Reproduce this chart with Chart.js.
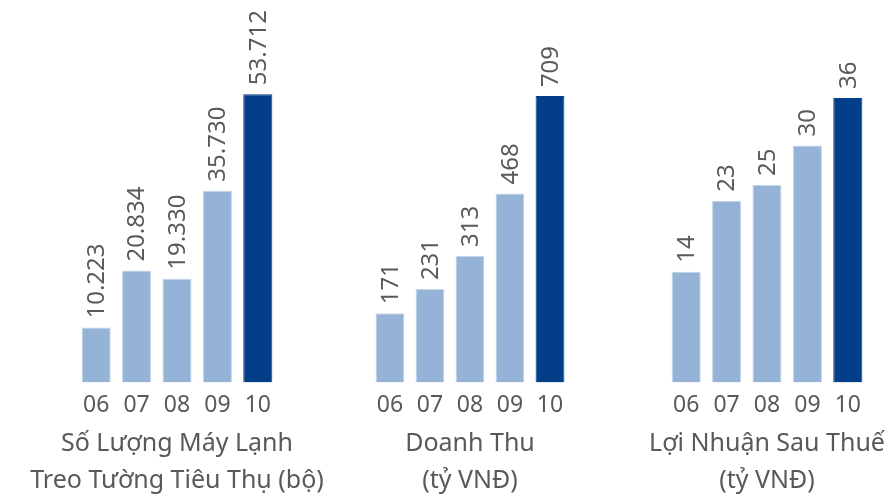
<!DOCTYPE html>
<html>
<head>
<meta charset="utf-8">
<script src="https://cdn.jsdelivr.net/npm/chart.js@4.4.0/dist/chart.umd.min.js"></script>
<style>
  html, body { margin: 0; padding: 0; background: #fff; }
  #wrap { position: relative; width: 890px; height: 499px; }
  #wrap canvas { position: absolute; left: 0; top: 0; }
</style>
</head>
<body>
<div id="wrap">
  <canvas id="c1" width="890" height="499"></canvas>
  <canvas id="c2" width="890" height="499"></canvas>
  <canvas id="c3" width="890" height="499"></canvas>
</div>
<script>
const years = ['06', '07', '08', '09', '10']

const unitsSold = [10223, 20834, 19330, 35730, 53712]
const revenue = [171, 231, 313, 468, 709]
const profit = [14, 23, 25, 30, 36]

const titleUnits = ['Số Lượng Máy Lạnh', 'Treo Tường Tiêu Thụ (bộ)']
const titleRevenue = ['Doanh Thu', '(tỷ VNĐ)']
const titleProfit = ['Lợi Nhuận Sau Thuế', '(tỷ VNĐ)']

const light = '#95b3d7'
const dark = '#033f88'
const textColor = '#595959'
const fontFamily = '"Noto Sans", "DejaVu Sans", sans-serif'

const fmt = v => String(v).replace(/\B(?=(\d{3})+(?!\d))/g, '.')

// vertical labels sitting on top of each bar
const barLabels = {
    id: 'barLabels',
    afterDatasetsDraw(chart) {
        const ctx = chart.ctx
        const meta = chart.getDatasetMeta(0)
        const data = chart.data.datasets[0].data
        ctx.save()
        ctx.font = '24px ' + fontFamily
        ctx.fillStyle = textColor
        ctx.textAlign = 'left'
        ctx.textBaseline = 'middle'
        meta.data.forEach((bar, i) => {
            ctx.save()
            ctx.translate(bar.x, bar.y - 9)
            ctx.rotate(-Math.PI / 2)
            ctx.fillText(fmt(data[i]), 0, 1)
            ctx.restore()
        })
        ctx.restore()
    }
}

// two-line caption under each panel (the scale title squeezes wide lines)
const panelTitle = {
    id: 'panelTitle',
    afterDraw(chart, args, opts) {
        const ctx = chart.ctx
        const area = chart.chartArea
        const cx = (area.left + area.right) / 2
        ctx.save()
        ctx.font = '25px ' + fontFamily
        ctx.fillStyle = textColor
        ctx.textAlign = 'center'
        ctx.textBaseline = 'alphabetic'
        opts.lines.forEach((line, i) => {
            ctx.fillText(line, cx, area.bottom + 69 + i * 37)
        })
        ctx.restore()
    }
}

const makeChart = (id, values, title, yMax, padLeft, padRight) => new Chart(
    document.getElementById(id),
    {
        type: 'bar',
        data: {
            labels: years,
            datasets: [
                {
                    data: values,
                    backgroundColor: values.map((v, i) => i === values.length - 1 ? dark : light),
                    borderColor: values.map((v, i) => i === values.length - 1 ? dark : '#c4d4ea'),
                    borderWidth: 1,
                    barPercentage: 0.72,
                    categoryPercentage: 1
                }
            ]
        },
        options: {
            responsive: false,
            animation: false,
            events: [],
            layout: { padding: { left: padLeft, right: padRight, top: 0, bottom: 71 } },
            plugins: {
                legend: { display: false },
                tooltip: { enabled: false },
                panelTitle: { lines: title }
            },
            scales: {
                y: { display: false, min: 0, max: yMax },
                x: {
                    grid: { display: false, drawTicks: false },
                    border: { display: false },
                    ticks: {
                        color: textColor,
                        padding: 9,
                        font: { family: fontFamily, size: 23 }
                    }
                }
            }
        },
        plugins: [barLabels, panelTitle]
    }
)

makeChart('c1', unitsSold, titleUnits, 71250, 76, 612)
makeChart('c2', revenue, titleRevenue, 947, 370, 320)
makeChart('c3', profit, titleProfit, 48.4, 666, 22)
</script>
</body>
</html>
